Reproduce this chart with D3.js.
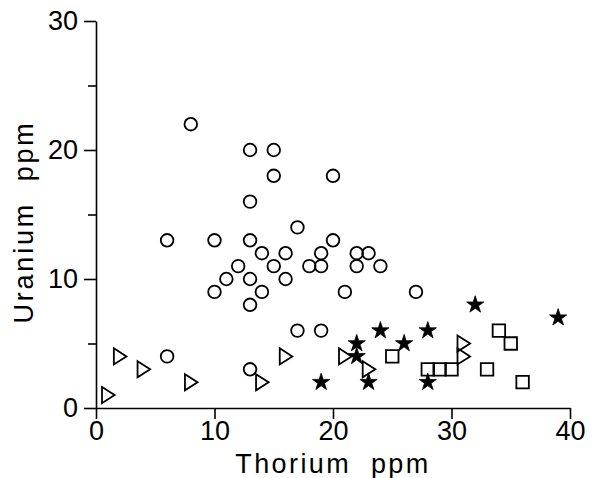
<!DOCTYPE html>
<html>
<head>
<meta charset="utf-8">
<script src="https://cdn.jsdelivr.net/npm/d3@7"></script>
<style>
  body { margin: 0; background: #fff; }
  text { font-family: "Liberation Sans", Arial, sans-serif; fill: #000; }
</style>
</head>
<body>
<div id="app"></div>
<script>
// data: thorium (x) vs uranium (y), ppm
const circleTh = [8, 13, 15, 15, 20, 13, 17, 6, 10, 13, 20, 14, 16, 19, 22, 23, 12, 15, 18, 19, 22, 24, 11, 13, 16, 10, 14, 21, 27, 13, 17, 19, 6, 13];
const circleU  = [22, 20, 20, 18, 18, 16, 14, 13, 13, 13, 13, 12, 12, 12, 12, 12, 11, 11, 11, 11, 11, 11, 10, 10, 10, 9, 9, 9, 9, 8, 6, 6, 4, 3];

const triangleTh = [1, 2, 4, 8, 14, 16, 21, 23, 31, 31];
const triangleU  = [1, 4, 3, 2, 2, 4, 4, 3, 5, 4];

const starTh = [19, 22, 22, 23, 24, 26, 28, 28, 32, 39];
const starU  = [2, 5, 4, 2, 6, 5, 6, 2, 8, 7];

const squareTh = [25, 28, 29, 30, 33, 34, 35, 36];
const squareU  = [4, 3, 3, 3, 3, 6, 5, 2];

const xTicks = [0, 10, 20, 30, 40];
const yTicks = [0, 10, 20, 30];
const yMinorTicks = [5, 15, 25];

const W = 593, H = 478;
const margin = {top: 21, right: 23, bottom: 70, left: 96};
const width = W - margin.left - margin.right;
const height = H - margin.top - margin.bottom;

const svg = d3.select("#app")
    .append("svg")
        .attr("width", W)
        .attr("height", H)
    .append("g")
        .attr("transform", "translate(" + margin.left + "," + margin.top + ")");

const x = d3.scaleLinear().domain([0, 40]).range([0, width]);
const y = d3.scaleLinear().domain([0, 30]).range([height, 0]);

// axes
const xAxis = svg.append("g")
    .attr("transform", "translate(0," + height + ")")
    .call(d3.axisBottom(x).tickValues(xTicks).tickSize(11).tickPadding(2).tickSizeOuter(0));
const yAxis = svg.append("g")
    .call(d3.axisLeft(y).tickValues(yTicks).tickSize(12).tickPadding(6).tickSizeOuter(0));
svg.append("g")
    .call(d3.axisLeft(y).tickValues(yMinorTicks).tickSize(8).tickFormat("").tickSizeOuter(0))
    .select(".domain").remove();

svg.selectAll(".domain, .tick line")
    .attr("stroke", "#000")
    .attr("stroke-width", 1.6);
svg.selectAll(".tick text")
    .style("font-size", "27px")
    .attr("fill", "#000");
xAxis.selectAll(".tick text").attr("dy", "0.72em");

// axis titles
svg.append("text")
    .attr("x", width / 2)
    .attr("y", height + 65)
    .attr("text-anchor", "middle")
    .style("font-size", "27px")
    .style("letter-spacing", "2.4px")
    .style("white-space", "pre")
    .text("Thorium  ppm");

svg.append("text")
    .attr("transform", "translate(" + (33 - margin.left) + "," + (222 - margin.top) + ") rotate(-90)")
    .attr("text-anchor", "middle")
    .style("font-size", "27px")
    .style("letter-spacing", "2.8px")
    .style("white-space", "pre")
    .text("Uranium  ppm");

// right pointing open triangle
const symbolTriRight = {
    draw(context, size) {
        const s = Math.sqrt(size);
        context.moveTo(-0.45 * s, -0.62 * s);
        context.lineTo(0.52 * s, 0);
        context.lineTo(-0.45 * s, 0.62 * s);
        context.closePath();
    }
};

const groups = [
    {th: circleTh, u: circleU, type: d3.symbolCircle, size: 125, fill: "none"},
    {th: triangleTh, u: triangleU, type: symbolTriRight, size: 169, fill: "none"},
    {th: starTh, u: starU, type: d3.symbolStar, size: 92, fill: "#000"},
    {th: squareTh, u: squareU, type: d3.symbolSquare, size: 156, fill: "none"}
];

groups.forEach(g => {
    const pts = g.th.map((t, i) => ({t: t, u: g.u[i]}));
    svg.append("g")
        .selectAll("path")
        .data(pts)
        .join("path")
            .attr("transform", d => "translate(" + x(d.t) + "," + y(d.u) + ")")
            .attr("d", d3.symbol(g.type, g.size))
            .attr("fill", g.fill)
            .attr("stroke", "#000")
            .attr("stroke-width", g.fill === "none" ? 1.8 : 0.8);
});
</script>
</body>
</html>
